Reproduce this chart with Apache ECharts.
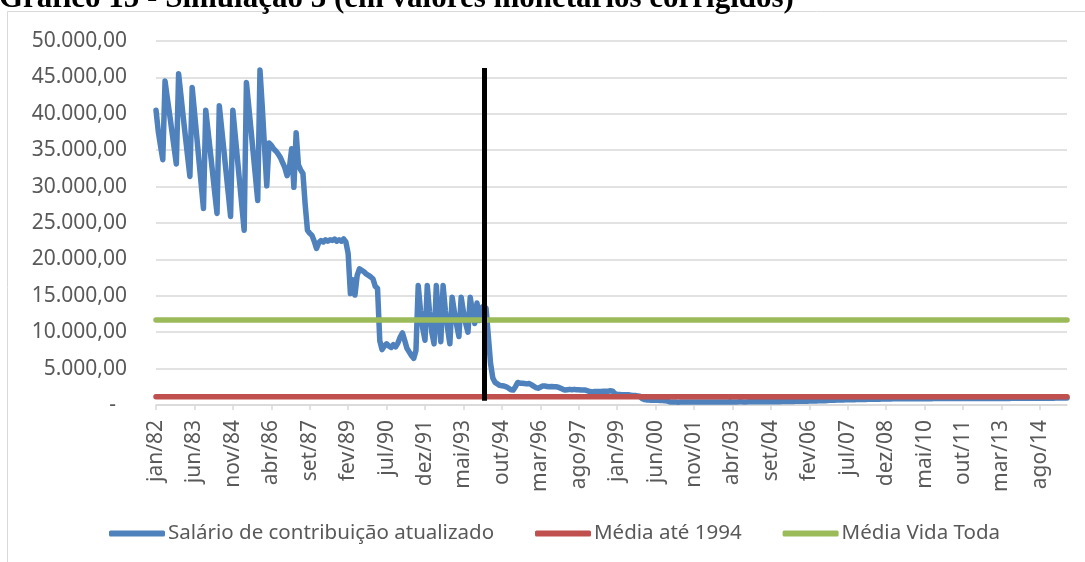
<!DOCTYPE html>
<html>
<head>
<meta charset="utf-8">
<script src="https://cdn.jsdelivr.net/npm/echarts@6/dist/echarts.min.js"></script>
<style>
  html, body { margin: 0; padding: 0; background: #fff; }
  #chart { width: 1085px; height: 562px; }
</style>
</head>
<body>
<div id="chart"></div>
<script>
// Rótulos de mês (jan/82 .. ago/15)
const monthNames = ['jan', 'fev', 'mar', 'abr', 'mai', 'jun', 'jul', 'ago', 'set', 'out', 'nov', 'dez'];
const firstYear = 1982;
const monthCount = 404;
const months = [];
for (let i = 0; i < monthCount; i++) {
    const yy = String((firstYear + Math.floor(i / 12)) % 100).padStart(2, '0');
    months.push(monthNames[i % 12] + '/' + yy);
}

// Salário de contribuição atualizado (uma linha por ano)
const salario = [
    40500, 37600, 35600, 33700, 44500, 42200, 40000, 37700, 35400, 33100, 45500, 42600, // 1982
    39700, 36900, 34100, 31400, 43600, 40300, 37000, 33600, 30300, 27000, 40500, 37700, // 1983
    34900, 32000, 29100, 26300, 41100, 38100, 35100, 32000, 29000, 25900, 40500, 37200, // 1984
    33900, 30600, 27300, 24000, 44300, 41100, 37900, 34600, 31400, 28100, 46000, 41000, // 1985
    35500, 30100, 36000, 35700, 35200, 34900, 34500, 34000, 33300, 32600, 31500, 32500, // 1986
    35200, 29900, 37400, 33000, 32300, 31800, 27500, 24000, 23600, 23300, 22500, 21500, // 1987
    22300, 22600, 22400, 22700, 22500, 22700, 22600, 22800, 22500, 22700, 22500, 22800, // 1988
    22400, 20800, 15300, 17200, 15100, 17800, 18700, 18500, 18300, 18000, 17800, 17600, // 1989
    17300, 16300, 16000, 8800, 7600, 8100, 8400, 8100, 7900, 8300, 8000, 8500,           // 1990
    9300, 9900, 8900, 7800, 7300, 6800, 6400, 7500, 16400, 13000, 10500, 8900,           // 1991
    16400, 12800, 10000, 8400, 16400, 12000, 8700, 16400, 13000, 10500, 8400, 14800,     // 1992
    12800, 11000, 9400, 14800, 12800, 11200, 10000, 14800, 12800, 11200, 14000, 11600,   // 1993
    13400, 13600, 13300, 9500, 5700, 3700, 3100, 2900, 2700, 2650, 2600, 2500,           // 1994
    2300, 2100, 2050, 2500, 3100, 3000, 3000, 2950, 2900, 2950, 2800, 2600,              // 1995
    2400, 2300, 2450, 2600, 2600, 2550, 2500, 2550, 2500, 2500, 2450, 2300,              // 1996
    2150, 2050, 2100, 2150, 2100, 2150, 2100, 2100, 2050, 2050, 2050, 1950,              // 1997
    1850, 1800, 1850, 1850, 1850, 1850, 1900, 1900, 1900, 1950, 1900, 1550,              // 1998
    1450, 1450, 1400, 1400, 1400, 1400, 1350, 1300, 1300, 1250, 1200, 900,               // 1999
    750, 700, 680, 660, 650, 650, 640, 630, 620, 600, 550, 450,                          // 2000
    400, 410, 400, 390, 400, 410, 420, 410, 400, 400, 410, 420,                          // 2001
    410, 400, 400, 410, 420, 410, 400, 410, 420, 420, 410, 400,                          // 2002
    410, 420, 430, 420, 410, 420, 430, 430, 420, 420, 430, 440,                          // 2003
    430, 430, 440, 440, 430, 440, 450, 440, 440, 450, 450, 460,                          // 2004
    460, 470, 470, 480, 480, 490, 490, 500, 500, 510, 510, 520,                          // 2005
    530, 540, 540, 550, 560, 570, 580, 590, 600, 620, 640, 650,                          // 2006
    660, 680, 690, 700, 700, 710, 710, 720, 720, 730, 740, 750,                          // 2007
    750, 760, 770, 780, 780, 790, 790, 800, 800, 810, 820, 830,                          // 2008
    840, 840, 850, 850, 850, 850, 850, 860, 860, 860, 860, 860,                          // 2009
    860, 860, 870, 870, 870, 870, 870, 870, 880, 880, 880, 880,                          // 2010
    880, 880, 880, 880, 880, 890, 890, 890, 890, 890, 890, 890,                          // 2011
    890, 890, 900, 900, 900, 900, 900, 900, 900, 900, 900, 900,                          // 2012
    910, 910, 910, 910, 910, 910, 910, 920, 920, 920, 920, 920,                          // 2013
    920, 920, 930, 930, 930, 930, 930, 930, 940, 940, 940, 940,                          // 2014
    940, 940, 950, 950, 950, 950, 950, 950                                               // 2015
];

// Médias (valores constantes)
const mediaAte1994 = 1120;
const mediaVidaToda = 11670;

// Marcador vertical (linha preta)
const marcadorMes = 'fev/94';
const marcadorFaixa = [46300, 600];

const seriesNames = ['Salário de contribuição atualizado', 'Média até 1994', 'Média Vida Toda'];
const seriesColors = ['#4f81bd', '#c0504d', '#9bbb59'];

const chart = echarts.init(document.getElementById('chart'));
const FONT = 'Noto Sans';

function fmtBR(v) {
    if (v === 0) return '{z|-}';
    const s = v.toFixed(0).replace(/\B(?=(\d{3})+(?!\d))/g, '.');
    return s + ',00';
}

const option = {
    animation: false,
    color: seriesColors,
    title: {
        text: 'Gráfico 15 - Simulação 3 (em valores monetários corrigidos)',
        left: -1,
        top: -17,
        padding: 0,
        textStyle: { fontFamily: 'Liberation Serif', fontWeight: 'bold', fontSize: 31, color: '#000' }
    },
    graphic: [{
        type: 'rect',
        shape: { x: 7.5, y: 11.5, width: 1200, height: 700 },
        style: { fill: 'none', stroke: '#d9d9d9', lineWidth: 1 },
        silent: true
    }],
    grid: { left: 156, right: 18, top: 41, bottom: 157, containLabel: false },
    legend: {
        data: seriesNames,
        left: 104,
        top: 518,
        itemWidth: 56,
        itemHeight: 6,
        itemGap: 41,
        icon: 'roundRect',
        textStyle: { fontFamily: FONT, fontSize: 20.5, color: '#595959', padding: [0, 0, 0, -2] }
    },
    xAxis: {
        type: 'category',
        data: months,
        boundaryGap: false,
        axisLine: { lineStyle: { color: '#d9d9d9', width: 1.5 } },
        axisTick: { show: true, interval: 16, length: 5, lineStyle: { color: '#d9d9d9', width: 1.5 } },
        axisLabel: {
            interval: 16,
            rotate: 90,
            margin: 15,
            fontFamily: FONT,
            fontSize: 21,
            color: '#595959'
        },
        splitLine: { show: false }
    },
    yAxis: {
        type: 'value',
        min: 0,
        max: 50000,
        interval: 5000,
        axisLine: { show: false },
        axisTick: { show: false },
        axisLabel: {
            margin: 29,
            fontFamily: FONT,
            fontSize: 21,
            color: '#595959',
            formatter: fmtBR,
            rich: { z: { fontFamily: FONT, fontSize: 21, color: '#595959', padding: [0, 11, 0, 0] } }
        },
        splitLine: { lineStyle: { color: '#d9d9d9', width: 1.5 } }
    },
    series: [
        {
            name: seriesNames[0],
            type: 'line',
            data: salario,
            showSymbol: false,
            symbol: 'none',
            lineStyle: { width: 5.5, color: seriesColors[0], cap: 'round', join: 'round' }
        },
        {
            name: seriesNames[1],
            type: 'line',
            data: months.map(() => mediaAte1994),
            showSymbol: false,
            symbol: 'none',
            lineStyle: { width: 5.5, color: seriesColors[1], cap: 'round' }
        },
        {
            name: seriesNames[2],
            type: 'line',
            data: months.map(() => mediaVidaToda),
            showSymbol: false,
            symbol: 'none',
            lineStyle: { width: 5.5, color: seriesColors[2], cap: 'round' },
            markLine: {
                silent: true,
                symbol: 'none',
                z: 10,
                label: { show: false },
                lineStyle: { color: '#000', width: 5, type: 'solid' },
                emphasis: { disabled: true },
                data: [[
                    { coord: [marcadorMes, marcadorFaixa[0]] },
                    { coord: [marcadorMes, marcadorFaixa[1]] }
                ]]
            }
        }
    ]
};

chart.setOption(option);
</script>
</body>
</html>
